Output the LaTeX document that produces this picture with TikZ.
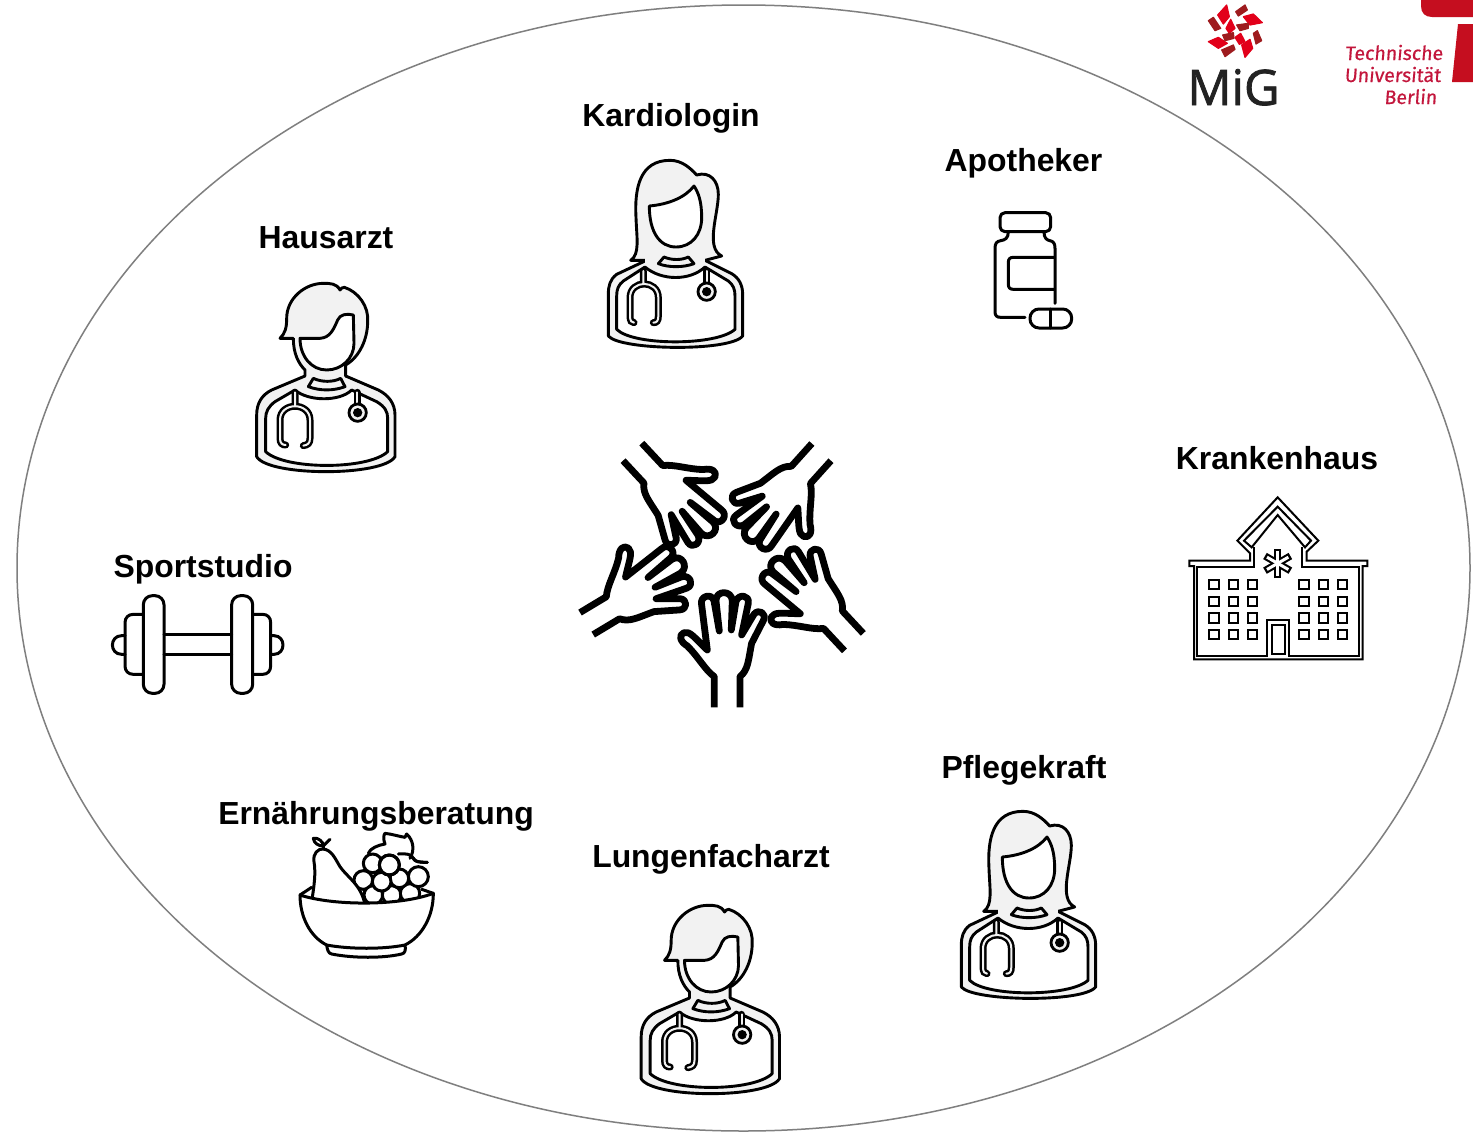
\documentclass[tikz,border=0pt]{standalone}
\usepackage{fontspec}
\setmainfont{Liberation Sans}
\newfontfamily\migfont[FakeBold=1.6]{Open Sans}
\newfontfamily\tufont[FakeBold=0.5,FakeSlant=0.08]{Fira Sans}
\definecolor{hairgray}{HTML}{F2F2F2}
\definecolor{ringgray}{HTML}{7F7F7F}
\definecolor{tured}{HTML}{C50E1F}
\definecolor{tutext}{HTML}{C3163C}
\definecolor{migred}{HTML}{E2001A}
\definecolor{migdark}{HTML}{9E1B1E}
\definecolor{migtext}{HTML}{222222}
\tikzset{
  label text/.style={font=\bfseries\fontsize{31.9}{36}\selectfont,anchor=base,inner sep=0pt,text=black},
  tu text/.style={font=\tufont\fontsize{19.5}{22}\selectfont,anchor=base east,inner sep=0pt,text=tutext},
  outl/.style={draw=black,line width=2.9pt,line join=round,line cap=round},
  grayfill/.style={outl,fill=hairgray},
  whitefill/.style={outl,fill=white},
  icon/.style={draw=black,line width=3pt,line join=round,line cap=round},
  thin icon/.style={draw=black,line width=2pt,line join=miter},
  handline/.style={draw=black,line width=6.8pt,line join=round,line cap=butt},
  migred piece/.style={fill=migred,draw=migred,line width=1.2pt,line join=round},
  migdark piece/.style={fill=migdark,draw=migdark,line width=1.2pt,line join=round},
  femaledoc/.pic={
    \begin{scope}[scale=1/3]
      \filldraw[grayfill] (165,330) -- (80,370) .. controls (60,385) and (55,405) .. (55,430) -- (55,555)
        .. controls (90,598) and (420,603) .. (458,555) -- (458,430)
        .. controls (458,400) and (445,380) .. (425,368) -- (345,328);
      \filldraw[grayfill] (165,328) -- (122,328) .. controls (150,310) and (140,260) .. (138,200)
        .. controls (133,110) and (150,28) .. (240,28) .. controls (275,28) and (300,50) .. (320,72)
        .. controls (360,60) and (385,90) .. (385,130) .. controls (385,190) and (345,290) .. (395,315) -- (345,328);
      \path[fill=hairgray] (165,320) rectangle (345,345);
      \draw[whitefill] (178,165) .. controls (235,160) and (285,140) .. (312,105)
        .. controls (325,125) and (335,150) .. (335,200) .. controls (335,250) and (305,288) .. (258,288)
        .. controls (210,288) and (178,245) .. (178,165) -- cycle;
      \draw[outl,fill=hairgray] (205,338) -- (222,318) .. controls (245,328) and (275,328) .. (295,318) -- (312,338)
        .. controls (280,350) and (235,350) .. (205,338) -- cycle;
      \draw[whitefill] (165,348) .. controls (215,390) and (300,390) .. (345,348) -- (415,390)
        .. controls (430,402) and (435,415) .. (435,435) -- (435,535)
        .. controls (380,585) and (130,585) .. (80,535) -- (80,435)
        .. controls (80,415) and (85,402) .. (100,390) -- cycle;
      \foreach \w/\c in {7pt/black,2pt/hairgray}{
        \draw[line width=\w,color=\c,line cap=round]
          (160,360) -- (160,395)
          (132,515) .. controls (125,515) and (120,510) .. (120,495) -- (120,440)
          .. controls (120,385) and (205,385) .. (205,440) -- (205,495) .. controls (205,510) and (200,515) .. (190,515);
        \draw[line width=\w,color=\c,line cap=round] (350,360) -- (350,395);
      }
      \draw[line width=2.8pt,fill=hairgray] (350,422) circle (26);
      \fill[black] (350,422) circle (14);
    \end{scope}
  },
  maledoc/.pic={
    \begin{scope}[scale=1/3]
      \filldraw[grayfill] (180,303) -- (80,345) .. controls (50,360) and (35,385) .. (35,420) -- (35,545)
        .. controls (70,605) and (415,605) .. (450,545) -- (450,420)
        .. controls (450,385) and (430,360) .. (400,345) -- (302,303);
      \filldraw[grayfill] (180,303) -- (180,285) .. controls (160,265) and (145,235) .. (145,190) -- (105,190)
        .. controls (120,175) and (125,160) .. (125,130) .. controls (125,70) and (180,25) .. (235,25)
        .. controls (255,25) and (275,25) .. (285,45) .. controls (288,40) and (292,37) .. (298,37)
        .. controls (340,50) and (372,95) .. (368,140) .. controls (368,190) and (345,245) .. (302,270) -- (302,303);
      \draw[whitefill] (165,190) -- (225,190) .. controls (255,188) and (265,165) .. (278,135)
        .. controls (285,118) and (305,115) .. (325,120) -- (327,205)
        .. controls (327,250) and (290,285) .. (245,285) .. controls (200,285) and (165,245) .. (165,190) -- cycle;
      \draw[outl,fill=hairgray] (190,335) -- (205,310) .. controls (230,322) and (265,322) .. (287,310) -- (300,335)
        .. controls (265,348) and (225,348) .. (190,335) -- cycle;
      \draw[whitefill] (150,345) .. controls (190,380) and (285,380) .. (320,345) -- (395,380)
        .. controls (420,395) and (428,410) .. (428,430) -- (428,530)
        .. controls (370,585) and (120,585) .. (62,530) -- (62,430)
        .. controls (62,410) and (70,395) .. (90,380) -- cycle;
      \foreach \w/\c in {7pt/black,2pt/hairgray}{
        \draw[line width=\w,color=\c,line cap=round]
          (150,352) -- (150,392)
          (122,510) .. controls (112,510) and (105,505) .. (105,490) -- (105,435)
          .. controls (105,380) and (195,380) .. (195,435) -- (195,490) .. controls (195,505) and (188,510) .. (175,512);
        \draw[line width=\w,color=\c,line cap=round] (336,352) -- (336,385);
      }
      \draw[line width=2.8pt,fill=hairgray] (338,413) circle (26);
      \fill[black] (338,413) circle (14);
    \end{scope}
  },
  onehand/.pic={
    \begin{scope}[scale=1/3,shift={(-472,-832)}]
      \draw[handline] (433,832) -- (433,740) .. controls (405,720) and (385,680) .. (352,648)
        .. controls (330,635) and (325,615) .. (342,608) .. controls (360,602) and (375,625) .. (412,660)
        -- (395,525) .. controls (388,498) and (425,488) .. (432,512) -- (448,603)
        -- (438,512) .. controls (438,480) and (485,480) .. (487,512) -- (484,600)
        -- (498,515) .. controls (505,490) and (540,495) .. (535,520) -- (515,615)
        -- (552,553) .. controls (565,535) and (592,550) .. (580,572) -- (545,640)
        .. controls (535,690) and (535,720) .. (510,740) -- (510,832);
    \end{scope}
  }
}
\begin{document}
\begin{tikzpicture}[x=1pt,y=-1pt]
\useasboundingbox (0,0) rectangle (1473,1135);
\fill[white] (0,0) rectangle (1473,1135);

% big ellipse
\draw[ringgray,line width=1.5pt] (743.5,568) ellipse [x radius=726.5,y radius=563];

% labels
\node[label text] (kard) at (671,126) {Kardiologin};
\node[label text] (haus) at (326,248) {Hausarzt};
\node[label text] (apo) at (1023.5,171) {Apotheker};
\node[label text] (kran) at (1277,469) {Krankenhaus};
\node[label text] (sport) at (203,577) {Sportstudio};
\node[label text] (ern) at (376,824) {Ernährungsberatung};
\node[label text] (lung) at (711,867) {Lungenfacharzt};
\node[label text] (pfl) at (1024,778) {Pflegekraft};

% people
\pic (kardicon) at (590,151) {femaledoc};
\pic (pflicon) at (943,802) {femaledoc};
\pic (hausicon) at (245,275) {maledoc};
\pic (lungicon) at (629.5,897) {maledoc};

% hands
\pic (h1) at (727.3,707.3) {onehand};
\pic[rotate=43] (h2) at (854,642) {onehand};
\pic[rotate=-59] (h3) at (586.7,623.7) {onehand};
\pic[rotate=-137] (h4) at (632.3,452) {onehand};
\pic[rotate=138] (h5) at (821.3,452) {onehand};

% pill bottle
\begin{scope}[shift={(980,200)},scale=1/3]
  \draw[icon,rounded corners=5pt] (60,38) rectangle (212,95);
  \draw[icon] (85,95) .. controls (85,115) and (75,120) .. (62,122) .. controls (50,124) and (45,130) .. (45,145) -- (45,335)
     .. controls (45,347) and (50,352) .. (62,352) -- (135,352);
  \draw[icon] (192,95) .. controls (192,115) and (200,120) .. (210,122) .. controls (220,124) and (225,130) .. (225,145) -- (225,310);
  \draw[icon] (222,172) -- (100,172) .. controls (90,172) and (85,177) .. (85,187) -- (85,253)
     .. controls (85,263) and (90,268) .. (100,268) -- (222,268);
  \draw[icon,rounded corners=9pt] (150,327) rectangle (275,384);
  \draw[icon] (212,327) -- (212,384);
\end{scope}

% dumbbell
\begin{scope}[shift={(100,585)},scale=1/3]
  \draw[icon,rounded corners=9pt] (130,32) rectangle (192,325);
  \draw[icon,rounded corners=9pt] (395,32) rectangle (458,325);
  \draw[icon] (130,88) -- (100,88) .. controls (85,88) and (75,98) .. (75,113) -- (75,243) .. controls (75,258) and (85,268) .. (100,268) -- (130,268);
  \draw[icon] (458,88) -- (488,88) .. controls (503,88) and (512,98) .. (512,113) -- (512,243) .. controls (512,258) and (503,268) .. (488,268) -- (458,268);
  \draw[icon] (75,152) -- (65,152) .. controls (28,152) and (28,208) .. (65,208) -- (75,208);
  \draw[icon] (512,152) -- (522,152) .. controls (558,152) and (558,208) .. (522,208) -- (512,208);
  \draw[icon] (192,148) -- (395,148) (192,208) -- (395,208);
\end{scope}

% hospital
\begin{scope}[shift={(1180,490)},scale=1/3]
  \draw[thin icon] (28,212) -- (28,228) -- (42,228) -- (42,508) -- (548,508) -- (548,228) -- (562,228) -- (562,212)
     -- (380,212) -- (380,185) -- (415,152) -- (293,22) -- (172,152) -- (210,190) -- (210,212) -- cycle;
  \draw[thin icon] (192,152) -- (293,50) -- (393,152) -- (375,172) -- (293,75) -- (215,172) -- cycle;
  \draw[thin icon] (222,172) -- (222,230) -- (52,230) -- (52,497) -- (262,497) -- (262,390) -- (328,390) -- (328,497)
     -- (538,497) -- (538,230) -- (365,230) -- (365,172);
  \draw[thin icon] (275,405) rectangle (315,492);
  \foreach \wx in {102,160,218,372,430,488}
    \foreach \wy in {284,334,384,434}
      \draw[draw=black,line width=2.1pt] (\wx-14,\wy-14) rectangle (\wx+14,\wy+14);
  \foreach \a in {90,30,150}
    \draw[line width=7.2pt,color=black,line cap=butt] (293,220) ++(\a:44) -- ++(\a+180:88);
  \foreach \a in {90,30,150}
    \draw[line width=3pt,color=white,line cap=butt] (293,220) ++(\a:37) -- ++(\a+180:74);
\end{scope}

% fruit bowl
\begin{scope}[shift={(290,830)},scale=1/3]
  \draw[icon] (325,72) .. controls (350,70) and (362,72) .. (370,85) .. controls (375,95) and (385,97) .. (412,97);
  \draw[icon,fill=white] (235,70) .. controls (240,55) and (265,45) .. (285,42) .. controls (280,30) and (280,15) .. (285,10)
    .. controls (305,12) and (330,20) .. (345,22) -- (350,12) .. controls (370,30) and (375,60) .. (360,85);
  \draw[icon] (325,72) .. controls (350,70) and (362,72) .. (370,85) .. controls (375,95) and (385,97) .. (412,97);
  \foreach \gx/\gy/\gr in {220/150/28, 250/195/28, 305/195/28, 360/190/29, 248/100/28, 385/140/30, 328/145/28, 275/155/28, 298/105/30}
    \draw[icon,fill=white] (\gx,\gy) circle (\gr);
  \draw[icon] (298,105) circle (30);
  \draw[icon,fill=white] (65,215) .. controls (72,170) and (78,130) .. (72,95) .. controls (68,70) and (85,55) .. (100,57)
    .. controls (125,60) and (135,85) .. (150,110) .. controls (170,140) and (215,165) .. (225,225) -- cycle;
  \draw[icon] (100,57) -- (100,40) (100,48) -- (120,28);
  \draw[icon,fill=white] (70,25) .. controls (85,22) and (100,35) .. (100,48) .. controls (85,48) and (72,40) .. (70,25) -- cycle;
  \draw[icon,fill=white] (30,195) .. controls (30,260) and (60,320) .. (110,345) .. controls (180,358) and (280,358) .. (345,345)
    .. controls (395,320) and (430,260) .. (430,190) .. controls (330,228) and (130,228) .. (30,195) -- cycle;
  \draw[icon] (30,195) -- (65,172) (430,190) -- (395,178);
  \draw[icon] (110,345) .. controls (112,360) and (115,370) .. (125,372) .. controls (190,385) and (280,385) .. (335,372)
    .. controls (345,370) and (348,360) .. (345,345);
\end{scope}

% MiG logo
\begin{scope}[shift={(1170,0)},scale=1/3]
  \path[migred piece] (143,45) -- (170,15) -- (178,50) -- (160,72) -- cycle;
  \path[migred piece] (220,50) -- (250,42) -- (277,68) -- (240,75) -- cycle;
  \path[migred piece] (215,135) -- (240,118) -- (248,145) -- (225,172) -- cycle;
  \path[migred piece] (115,125) -- (145,112) -- (172,130) -- (145,145) -- cycle;
  \path[migred piece] (168,85) -- (182,58) -- (195,85) -- (178,100) -- cycle;
  \path[migred piece] (195,112) -- (212,100) -- (225,125) -- (208,133) -- cycle;
  \path[migdark piece] (197,35) -- (225,15) -- (232,30) -- (205,48) -- cycle;
  \path[migdark piece] (115,62) -- (130,52) -- (152,85) -- (135,92) -- cycle;
  \path[migdark piece] (250,100) -- (262,92) -- (275,122) -- (258,132) -- cycle;
  \path[migdark piece] (155,150) -- (190,135) -- (195,148) -- (165,170) -- cycle;
  \path[migdark piece] (200,75) -- (235,70) -- (235,85) -- (210,92) -- cycle;
  \path[migdark piece] (158,105) -- (190,98) -- (192,115) -- (165,122) -- cycle;
\end{scope}
\node[font=\migfont\fontsize{49}{52}\selectfont,text=migtext,anchor=base,inner sep=0pt] (migword) at (1233.5,105) {MiG};

% TU logo
\node[tu text] (tu1) at (1443,60) {Technische};
\node[tu text] (tu2) at (1441,82) {Universität};
\node[tu text] (tu3) at (1437,104) {Berlin};
\fill[tured] (1421,0) -- (1421,6) .. controls (1421,13) and (1425,17) .. (1432,17) -- (1473,17) -- (1473,0) -- cycle;
\fill[tured] (1458,24) -- (1473,24) -- (1473,82) -- (1452,82) -- cycle;
\end{tikzpicture}
\end{document}
